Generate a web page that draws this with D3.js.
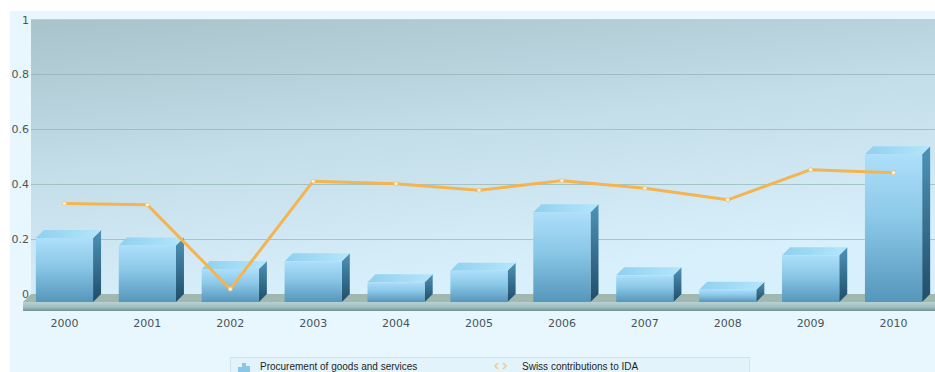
<!DOCTYPE html>
<html><head><meta charset="utf-8">
<script src="https://cdn.jsdelivr.net/npm/d3@7/dist/d3.min.js"></script>
<style>html,body{margin:0;padding:0;background:#fff;}svg{display:block;}</style>
</head><body>
<script>
const years = ["2000","2001","2002","2003","2004","2005","2006","2007","2008","2009","2010"];
const procurement = [0.233,0.206,0.120,0.148,0.072,0.114,0.327,0.097,0.045,0.170,0.538];
const swissIDA = [0.330,0.325,0.018,0.411,0.402,0.378,0.413,0.385,0.343,0.453,0.442];
const yTicks = [0,0.2,0.4,0.6,0.8,1];
const seriesNames = ["Procurement of goods and services","Swiss contributions to IDA"];

const W=935,H=372;
const dx=8, dy=-8;
const svg=d3.select("body").append("svg").attr("width",W).attr("height",H);
const defs=svg.append("defs");

function grad(id,x2,y2,stops){
  const g=defs.append("linearGradient").attr("id",id).attr("x1",0).attr("y1",0).attr("x2",x2).attr("y2",y2);
  stops.forEach(s=>g.append("stop").attr("offset",s[0]).attr("stop-color",s[1]));
}
grad("bgPlot",0.35,1,[[0,"#a9c3cb"],[0.5,"#c3dde9"],[1,"#d8f0fb"]]);
grad("barFront",0,1,[[0,"#addffa"],[0.45,"#8ac7e7"],[1,"#5596bb"]]);
grad("barSide",0,1,[[0,"#4e93b8"],[1,"#1f4d69"]]);
grad("barTop",1,0,[[0,"#8fd0ef"],[1,"#b4e6fb"]]);
grad("floorFront",0,1,[[0,"#b7d2d3"],[0.6,"#9ebdbe"],[1,"#6f9294"]]);

// outer container
svg.append("rect").attr("x",10).attr("y",11).attr("width",W-10).attr("height",H-11).attr("fill","#e7f7fd");

// scales: front plane
const x=d3.scaleBand().domain(years).range([23,935]).paddingInner(0.31).paddingOuter(0.155);
const yBack=d3.scaleLinear().domain([0,1]).range([294,19.5]);
const yFront=v=>yBack(v)-dy;

// back wall
svg.append("rect").attr("x",23+dx).attr("y",yBack(1)).attr("width",W-23-dx).attr("height",yBack(0)-yBack(1))
  .attr("fill","url(#bgPlot)");
svg.append("line").attr("x1",23+dx).attr("x2",W).attr("y1",yBack(1)).attr("y2",yBack(1)).attr("stroke","#b6d3df").attr("stroke-width",1);

// gridlines
svg.append("g").selectAll("line").data(yTicks.filter(t=>t>0&&t<1)).join("line")
  .attr("x1",23+dx).attr("x2",W).attr("y1",d=>Math.round(yBack(d))+0.5).attr("y2",d=>Math.round(yBack(d))+0.5)
  .attr("stroke","#88afa8").attr("stroke-width",1).attr("opacity",0.6);

// y axis labels
svg.append("g").selectAll("text").data(yTicks).join("text")
  .attr("x",29).attr("y",d=>yBack(d)+4).attr("text-anchor","end")
  .attr("font-family","DejaVu Sans, Verdana, sans-serif").attr("font-size",11).attr("fill","#4c565a")
  .text(d=>d3.format("~g")(d));

// floor
const fx0=23, fx1=W;
svg.append("path").attr("d",`M${fx0},${yFront(0)}L${fx0+dx},${yBack(0)}L${fx1+dx},${yBack(0)}L${fx1},${yFront(0)}Z`).attr("fill","#a0b8b0");
svg.append("rect").attr("x",fx0).attr("y",yFront(0)).attr("width",fx1-fx0).attr("height",9).attr("fill","url(#floorFront)");

// bars
const bw=x.bandwidth();
const bars=svg.append("g");
procurement.forEach((v,i)=>{
  const x0=x(years[i]), yt=yFront(v), yb=yFront(0);
  bars.append("path").attr("d",`M${x0+bw},${yt}L${x0+bw+dx},${yt+dy}L${x0+bw+dx},${yb+dy}L${x0+bw},${yb}Z`).attr("fill","url(#barSide)");
  bars.append("path").attr("d",`M${x0},${yt}L${x0+dx},${yt+dy}L${x0+bw+dx},${yt+dy}L${x0+bw},${yt}Z`).attr("fill","url(#barTop)");
  bars.append("rect").attr("x",x0).attr("y",yt).attr("width",bw).attr("height",yb-yt).attr("fill","url(#barFront)");
});

// line
const lx=d=>x(d)+bw/2;
const line=d3.line().x((d,i)=>lx(years[i])).y(d=>yBack(d));
svg.append("path").datum(swissIDA).attr("d",line).attr("fill","none").attr("stroke","#f3b451").attr("stroke-width",3).attr("stroke-linejoin","round");
svg.append("g").selectAll("circle").data(swissIDA).join("circle")
  .attr("cx",(d,i)=>lx(years[i])).attr("cy",d=>yBack(d)).attr("r",2)
  .attr("fill","#fdf3dc").attr("stroke","#f0c070").attr("stroke-width",0.8);

// x labels
svg.append("g").selectAll("text").data(years).join("text")
  .attr("x",d=>x(d)+bw/2).attr("y",327).attr("text-anchor","middle")
  .attr("font-family","DejaVu Sans, Verdana, sans-serif").attr("font-size",11).attr("fill","#4a5458")
  .text(d=>d);

// legend
const lg=svg.append("g");
lg.append("rect").attr("x",230.5).attr("y",357.5).attr("width",519).attr("height",30).attr("fill","#e2f3fb").attr("stroke","#cfe4ee");
[[238,4,5],[242,4,9],[246,4,6]].forEach(b=>lg.append("rect").attr("x",b[0]).attr("y",372-b[2]).attr("width",b[1]).attr("height",b[2]).attr("fill","#8cc6e6"));
lg.append("text").attr("x",260).attr("y",369.5).attr("font-family","Liberation Sans, Arial, sans-serif").attr("font-size",10).attr("fill","#1e1e1e").text(seriesNames[0]);
lg.append("path").attr("d","M498,363L495,366L498,369M503,363L506,366L503,369").attr("fill","none").attr("stroke","#f6c98a").attr("stroke-width",1.5);
lg.append("text").attr("x",522).attr("y",369.5).attr("font-family","Liberation Sans, Arial, sans-serif").attr("font-size",10).attr("fill","#1e1e1e").text(seriesNames[1]);
</script>
</body></html>
